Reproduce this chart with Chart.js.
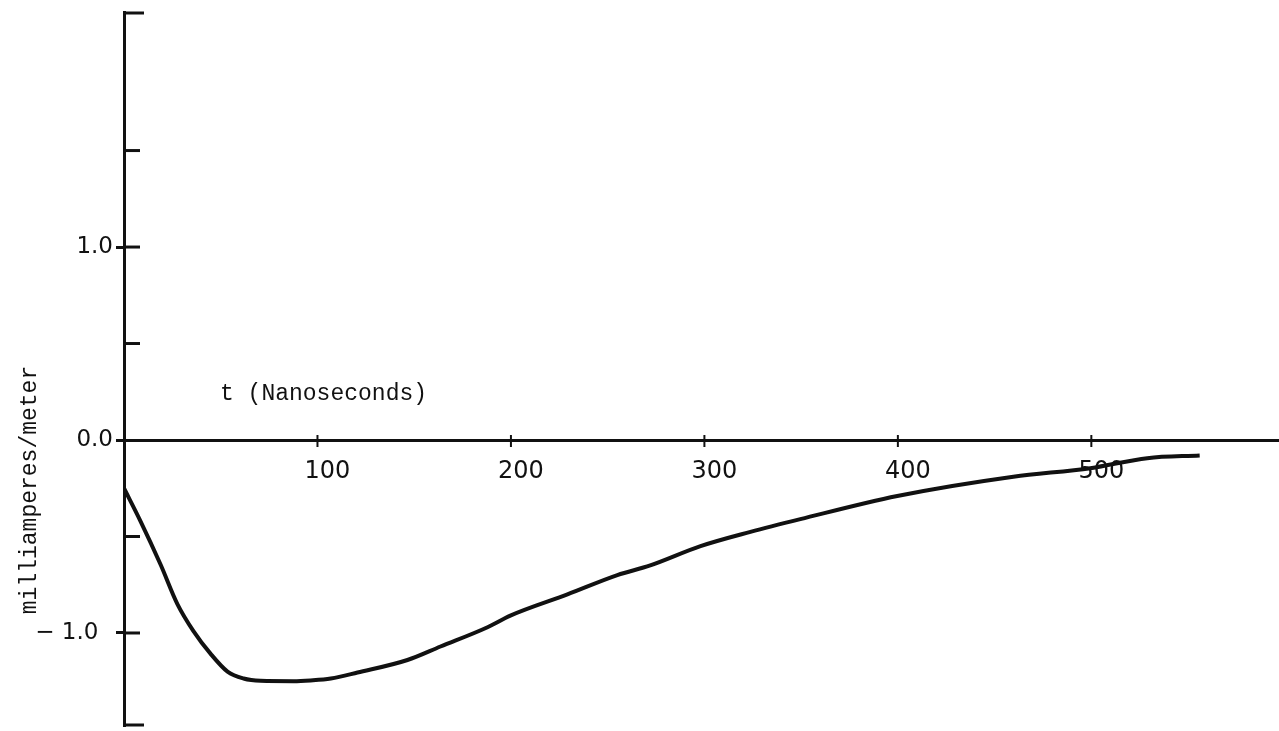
<!DOCTYPE html>
<html>
<head>
<meta charset="utf-8">
<script src="https://cdn.jsdelivr.net/npm/chart.js@4/dist/chart.umd.min.js"></script>
<style>
  html, body { margin: 0; padding: 0; background: #fff; }
  #wrap { width: 1279px; height: 731px; }
</style>
</head>
<body>
<div id="wrap"><canvas id="currentChart" width="1279" height="731"></canvas></div>
<script>
// time in nanoseconds
const times = [0, 8.5, 18.9, 27.6, 35.9, 44.7, 53.5, 61.8, 70.6, 87.6, 96.4, 106.9, 120.7,
  146.5, 163.6, 187.9, 199.7, 229.2, 255, 272, 298, 323.8, 349.6, 399.7, 459.7, 499.5, 528.9, 556];
// current density, milliamperes/meter
const current = [-0.25, -0.42, -0.645, -0.85, -0.99, -1.107, -1.2, -1.236, -1.248, -1.25, -1.246, -1.236, -1.205,
  -1.14, -1.07, -0.97, -0.91, -0.8, -0.7, -0.65, -0.55, -0.476, -0.41, -0.29, -0.19, -0.146, -0.094, -0.08];

const xTickValues = [100, 200, 300, 400, 500];
const xTickLabels = ['100', '200', '300', '400', '500'];
const yTickLabels = { '1': '1.0', '0': '0.0', '-1': '\u2212 1.0  ' };
const xTitle = 't (Nanoseconds)';
const yTitle = 'milliamperes/meter';

const ink = '#111';
const labelFont = { family: 'DejaVu Sans', size: 23 };
const typeFont = '23px "Liberation Mono", "DejaVu Sans Mono", monospace';

// inner tick marks on the y axis, bracket ends, x ticks + labels and the typed captions
const decor = {
  id: 'decor',
  afterDraw(chart) {
    const { ctx, chartArea, scales } = chart;
    const x = scales.x;
    const y = scales.y;
    const zeroY = y.getPixelForValue(0);
    ctx.save();
    ctx.strokeStyle = ink;
    ctx.lineWidth = 3;
    y.ticks.filter(t => t.value !== 0 && t.value < 2 && t.value > -1.4).forEach(t => {
      const py = y.getPixelForValue(t.value);
      ctx.beginPath();
      ctx.moveTo(chartArea.left, py);
      ctx.lineTo(chartArea.left + 16, py);
      ctx.stroke();
    });
    [chartArea.top + 1, chartArea.bottom - 1].forEach(py => {
      ctx.beginPath();
      ctx.moveTo(chartArea.left, py);
      ctx.lineTo(chartArea.left + 20, py);
      ctx.stroke();
    });

    ctx.lineWidth = 2;
    xTickValues.forEach(v => {
      const px = x.getPixelForValue(v);
      ctx.beginPath();
      ctx.moveTo(px, zeroY - 5);
      ctx.lineTo(px, zeroY + 7);
      ctx.stroke();
    });

    ctx.fillStyle = ink;
    ctx.font = '24px "DejaVu Sans"';
    ctx.textAlign = 'center';
    ctx.textBaseline = 'top';
    xTickValues.forEach((v, i) => {
      ctx.fillText(xTickLabels[i], x.getPixelForValue(v) + 10, zeroY + 20);
    });

    ctx.font = typeFont;
    ctx.textBaseline = 'alphabetic';
    ctx.textAlign = 'left';
    ctx.fillText(xTitle, 220, 400);

    ctx.translate(36, 490);
    ctx.rotate(-Math.PI / 2);
    ctx.textAlign = 'center';
    ctx.fillText(yTitle, 0, 0);
    ctx.restore();
  }
};

new Chart(document.getElementById('currentChart'), {
  type: 'line',
  data: {
    datasets: [{
      data: times.map((t, i) => ({ x: t, y: current[i] })),
      borderColor: ink,
      borderWidth: 4,
      pointRadius: 0,
      fill: false,
      cubicInterpolationMode: 'monotone'
    }]
  },
  options: {
    responsive: false,
    animation: false,
    layout: { autoPadding: false, padding: { left: 0, right: 0, top: 12, bottom: 5 } },
    plugins: { legend: { display: false }, tooltip: { enabled: false } },
    scales: {
      x: {
        type: 'linear',
        position: { y: 0 },
        bounds: 'data',
        min: 0,
        max: 597,
        afterFit: s => { s.height = 0; s.paddingLeft = 0; s.paddingRight = 0; },
        border: { display: true, color: ink, width: 3 },
        grid: { display: false },
        ticks: { stepSize: 100, includeBounds: false, display: false }
      },
      y: {
        type: 'linear',
        min: -1.482,
        max: 2.218,
        afterFit: s => { s.width = 124; s.paddingTop = 0; s.paddingBottom = 0; },
        border: { display: true, color: ink, width: 3 },
        grid: {
          drawOnChartArea: false,
          tickLength: 8,
          tickWidth: 3,
          tickColor: c => (yTickLabels[String(c.tick && c.tick.value)] ? ink : 'rgba(0,0,0,0)')
        },
        ticks: {
          stepSize: 0.5,
          includeBounds: false,
          autoSkip: false,
          padding: 3,
          color: ink,
          font: labelFont,
          callback: v => yTickLabels[String(v)] || ''
        }
      }
    }
  },
  plugins: [decor]
});
</script>
</body>
</html>
